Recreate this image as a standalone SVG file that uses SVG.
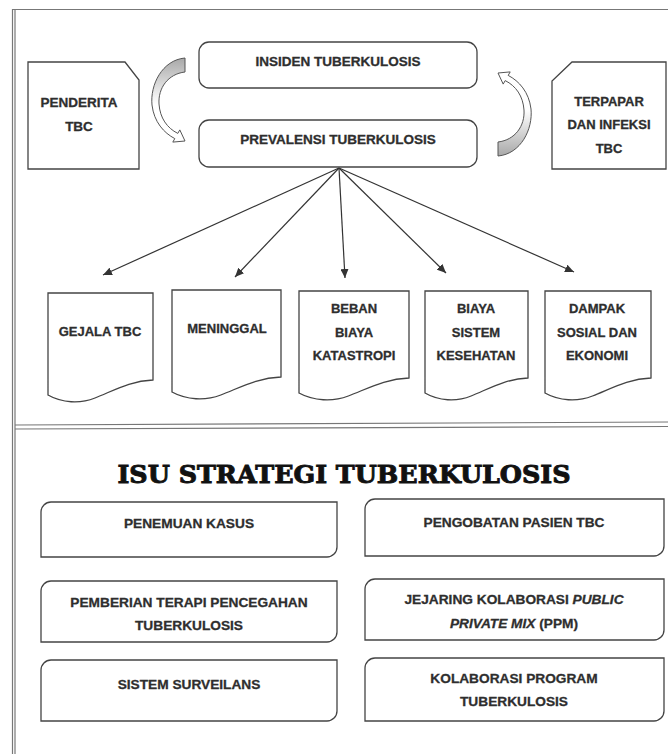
<svg xmlns="http://www.w3.org/2000/svg" width="668" height="754" viewBox="0 0 668 754">
<style>
.t{font-family:"Liberation Sans",Arial,sans-serif;font-weight:bold;fill:#2e2e2e;stroke:#2e2e2e;stroke-width:0.3;text-anchor:middle}
.s13{font-size:13px}
.s135{font-size:13.5px}
.s137{font-size:13.7px}
.box{fill:#fff;stroke:#444;stroke-width:1.3}
.frame{stroke:#777;stroke-width:1.2;fill:none}
.con{stroke:#333;stroke-width:1.2;fill:none;marker-end:url(#ah)}
.curve{fill:url(#cg);stroke:#555;stroke-width:1}
.title{font-family:"DejaVu Serif","Liberation Serif",serif;font-weight:bold;font-size:24px;fill:#111;stroke:#111;stroke-width:0.9;text-anchor:middle}
</style>
<defs>
<marker id="ah" markerWidth="10" markerHeight="8" refX="9" refY="4" orient="auto" markerUnits="userSpaceOnUse">
<path d="M0,0 L9,4 L0,8 Z" fill="#333"/>
</marker>
<linearGradient id="cg" x1="0" y1="0" x2="0" y2="1">
<stop offset="0" stop-color="#a8a8a8"/>
<stop offset="0.3" stop-color="#d8d8d8"/>
<stop offset="0.55" stop-color="#fff"/>
<stop offset="1" stop-color="#fff"/>
</linearGradient>
<path id="carrow" d="M185,58 C162,60 150,85 152,105 C154,122 164,133 174.8,138.6 L172.8,142.1 L185,141 L179.8,129.9 L177.8,133.4 C167,128 160,118 159,104 C158,88 168,74 185,72 Z"/>
</defs>
<rect width="668" height="754" fill="#fff"/>
<g id="frame">
<line class="frame" x1="12" y1="9.5" x2="668" y2="9.5"/>
<line class="frame" x1="12.5" y1="9" x2="12.5" y2="754"/>
<line class="frame" x1="15" y1="9" x2="15" y2="754" stroke-width="0.8"/>
<line class="frame" x1="15" y1="425" x2="668" y2="422" stroke="#555" stroke-width="1.3"/>
<line class="frame" x1="15" y1="429" x2="668" y2="426.5" stroke="#888"/>
</g>
<g id="connectors">
<use href="#carrow" class="curve"/>
<use href="#carrow" class="curve" transform="rotate(180 341.5 107)"/>
<line class="con" x1="339" y1="168" x2="103" y2="275"/>
<line class="con" x1="339" y1="168" x2="235" y2="277"/>
<line class="con" x1="339" y1="168" x2="345" y2="278"/>
<line class="con" x1="339" y1="168" x2="446" y2="273"/>
<line class="con" x1="339" y1="168" x2="574" y2="272"/>
</g>
<g id="penderita">
<path class="box" d="M28,62 H125 L139,80 V169 H28 Z"/>
<text class="t s135" x="79" y="107">PENDERITA</text>
<text class="t s135" x="79" y="131">TBC</text>
</g>
<g id="insiden">
<rect class="box" x="199" y="42" width="278" height="46" rx="10"/>
<text class="t s135" x="338" y="66">INSIDEN TUBERKULOSIS</text>
</g>
<g id="prevalensi">
<rect class="box" x="199" y="120" width="278" height="47" rx="10"/>
<text class="t s135" x="338" y="144">PREVALENSI TUBERKULOSIS</text>
</g>
<g id="terpapar">
<path class="box" d="M572,62 H666 V169 H552 V81 Z"/>
<text class="t s13" x="609" y="106">TERPAPAR</text>
<text class="t s13" x="609" y="129">DAN INFEKSI</text>
<text class="t s13" x="609" y="153">TBC</text>
</g>
<g id="gejala">
<path class="box" d="M48,293 H153 V380 C130,381 115,390 95,398 C80,404 62,403 48,395 Z"/>
<text class="t s13" x="100" y="336">GEJALA TBC</text>
</g>
<g id="meninggal">
<path class="box" d="M172,290 H281 V377 C257,378 241.5,387 220.8,395 C205.2,401 186.5,400 172,392 Z"/>
<text class="t s13" x="227" y="333">MENINGGAL</text>
</g>
<g id="beban">
<path class="box" d="M299,291 H409 V378 C384.9,379 369.2,388 348.3,396 C332.6,402 313.6,401 299,393 Z"/>
<text class="t s13" x="354" y="313">BEBAN</text>
<text class="t s13" x="354" y="337">BIAYA</text>
<text class="t s13" x="354" y="360">KATASTROPI</text>
</g>
<g id="biaya">
<path class="box" d="M425,291 H528 V378 C505.4,379 490.7,388 471.1,396 C456.4,402 438.7,401 425,393 Z"/>
<text class="t s13" x="476" y="313">BIAYA</text>
<text class="t s13" x="476" y="337">SISTEM</text>
<text class="t s13" x="476" y="360">KESEHATAN</text>
</g>
<g id="dampak">
<path class="box" d="M545,291 H651 V378 C627.8,379 612.6,388 592.5,396 C577.3,402 559.1,401 545,393 Z"/>
<text class="t s13" x="597" y="313">DAMPAK</text>
<text class="t s13" x="597" y="337">SOSIAL DAN</text>
<text class="t s13" x="597" y="360">EKONOMI</text>
</g>
<g id="title">
<text class="title" x="344" y="483" textLength="453" lengthAdjust="spacingAndGlyphs">ISU STRATEGI TUBERKULOSIS</text>
</g>
<g id="penemuan">
<path class="box" d="M51,502 H337 V547 A10,10 0 0 1 327,557 H41 V512 A10,10 0 0 1 51,502 Z"/>
<text class="t s137" x="189" y="528">PENEMUAN KASUS</text>
</g>
<g id="pemberian">
<path class="box" d="M51,581 H337 V632 A10,10 0 0 1 327,642 H41 V591 A10,10 0 0 1 51,581 Z"/>
<text class="t s137" x="189" y="607">PEMBERIAN TERAPI PENCEGAHAN</text>
<text class="t s137" x="189" y="630">TUBERKULOSIS</text>
</g>
<g id="surveilans">
<path class="box" d="M51,660 H337 V711 A10,10 0 0 1 327,721 H41 V670 A10,10 0 0 1 51,660 Z"/>
<text class="t s137" x="189" y="689">SISTEM SURVEILANS</text>
</g>
<g id="pengobatan">
<path class="box" d="M375,499 H664 V546 A10,10 0 0 1 654,556 H365 V509 A10,10 0 0 1 375,499 Z"/>
<text class="t s137" x="514" y="527">PENGOBATAN PASIEN TBC</text>
</g>
<g id="jejaring">
<path class="box" d="M375,579 H664 V630 A10,10 0 0 1 654,640 H365 V589 A10,10 0 0 1 375,579 Z"/>
<text class="t s137" x="514" y="604">JEJARING KOLABORASI <tspan font-style="italic">PUBLIC</tspan></text>
<text class="t s137" x="514" y="628"><tspan font-style="italic">PRIVATE MIX</tspan> (PPM)</text>
</g>
<g id="kolaborasi">
<path class="box" d="M375,658 H664 V711 A10,10 0 0 1 654,721 H365 V668 A10,10 0 0 1 375,658 Z"/>
<text class="t s137" x="514" y="683">KOLABORASI PROGRAM</text>
<text class="t s137" x="514" y="706">TUBERKULOSIS</text>
</g>
</svg>
